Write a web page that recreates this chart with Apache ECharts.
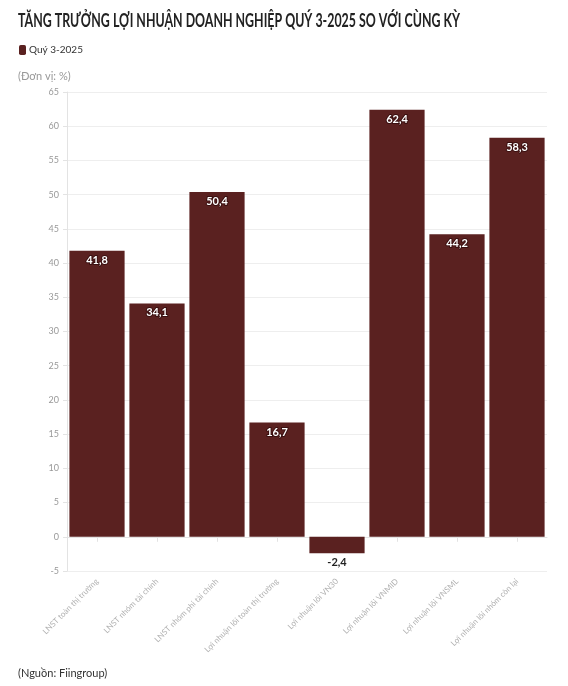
<!DOCTYPE html>
<html><head><meta charset="utf-8">
<script src="https://cdn.jsdelivr.net/npm/echarts@6/dist/echarts.min.js"></script>
<style>html,body{margin:0;padding:0;background:#fff}#c{width:568px;height:686px}</style>
</head><body><div id="c"></div>
<script>
const categories = ['LNST toàn thị trường','LNST nhóm tài chính','LNST nhóm phi tài chính','Lợi nhuận lõi toàn thị trường','Lợi nhuận lõi VN30','Lợi nhuận lõi VNMID','Lợi nhuận lõi VNSML','Lợi nhuận lõi nhóm còn lại'];
const values = [41.8, 34.1, 50.4, 16.7, -2.4, 62.4, 44.2, 58.3];
const seriesName = 'Quý 3-2025';
const yMin = -5, yMax = 65, yStep = 5;

const titleText = 'TĂNG TRƯỞNG LỢI NHUẬN DOANH NGHIỆP QUÝ 3-2025 SO VỚI CÙNG KỲ';
const titleFont = 'bold 18px Lato, "Noto Sans", sans-serif';
const ctx = document.createElement('canvas').getContext('2d');
ctx.font = titleFont;
const titleScale = 442 / ctx.measureText(titleText).width;

const chart = echarts.init(document.getElementById('c'));
const fmt = v => String(v).replace('.', ',');
chart.setOption({
  animation: false,
  textStyle: {fontFamily: 'Lato, "Noto Sans", sans-serif'},
  graphic: [
    {type:'text', x:18, y:12, scaleX:titleScale, style:{text:titleText, font:titleFont, fill:'#222'}},
    {type:'text', left:18, top:71, style:{text:'(Đơn vị: %)', font:'11px Lato, sans-serif', fill:'#999'}},
    {type:'text', left:18, top:668, style:{text:'(Nguồn: Fiingroup)', font:'11px Lato, sans-serif', fill:'#333'}}
  ],
  legend: {
    left: 14, top: 40, itemWidth: 7, itemHeight: 10, itemGap: 4,
    textStyle: {fontSize: 10, color: '#333', padding:[0,0,0,-2]},
    data: [seriesName]
  },
  grid: {left: 67, right: 21, top: 92, bottom: 115, containLabel: false},
  xAxis: {
    type: 'category', data: categories,
    axisLine: {show: true, lineStyle: {color: '#e3e3e3'}},
    axisTick: {show: true, alignWithLabel: true, lineStyle: {color: '#e3e3e3'}},
    axisLabel: {rotate: 45, color: '#b0b0b0', fontSize: 8, margin: 9, interval: 0}
  },
  yAxis: {
    type: 'value', min: yMin, max: yMax, interval: yStep,
    axisLine: {show: true, lineStyle: {color: '#e3e3e3'}},
    axisTick: {show: true, length: 4, lineStyle: {color: '#e3e3e3'}},
    axisLabel: {color: '#999', fontSize: 9, margin: 8},
    splitLine: {lineStyle: {color: '#eeeeee'}}
  },
  series: [{
    name: seriesName, type: 'bar', barCategoryGap: '8%',
    itemStyle: {color: '#5a2120'},
    label: {
      show: true, position: 'insideTop', distance: 4,
      formatter: p => fmt(p.value),
      color: '#fff', fontWeight: 'bold', fontSize: 11,
      textBorderColor: '#3a1010', textBorderWidth: 2
    },
    data: values.map(v => v < 0 ? {value: v, label: {position: 'bottom', color: '#222', textBorderWidth: 0}} : v)
  }]
});
</script></body></html>
